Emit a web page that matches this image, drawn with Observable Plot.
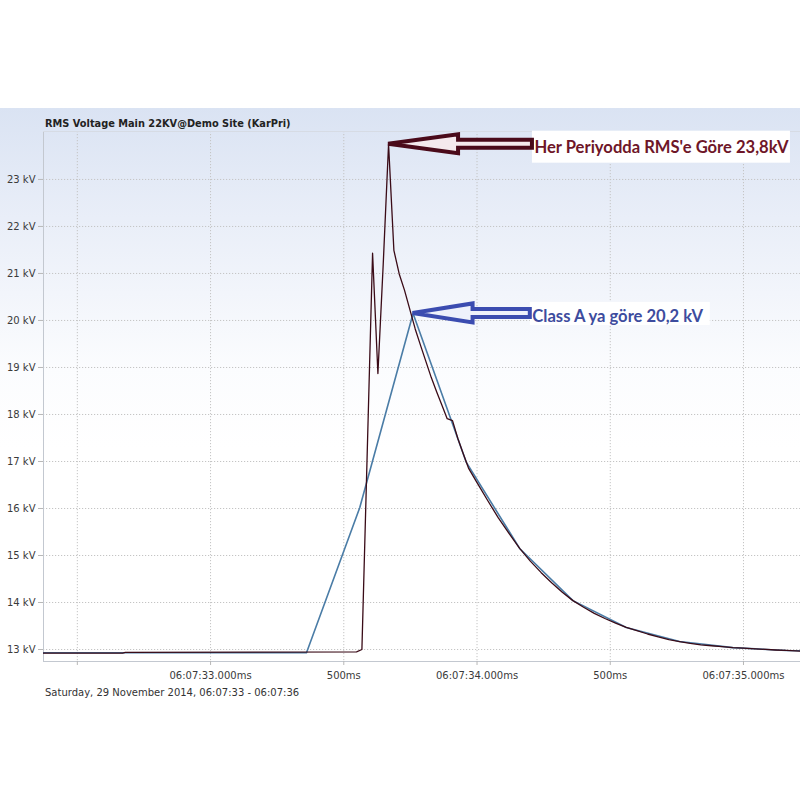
<!DOCTYPE html>
<html><head><meta charset="utf-8">
<script src="https://cdn.jsdelivr.net/npm/d3@7"></script>
<script src="https://cdn.jsdelivr.net/npm/@observablehq/plot@0.6"></script>
<style>
html,body{margin:0;padding:0;width:800px;height:800px;overflow:hidden;background:#fff;}
#panel{position:absolute;left:0;top:108px;width:800px;height:600px;background:linear-gradient(#dae3f3 0px,#e9eef8 110px,#fbfcfe 260px,#fff 340px);}
#title{position:absolute;left:45px;top:118px;font:bold 9.8px "DejaVu Sans",sans-serif;line-height:12px;color:#222;white-space:nowrap;}
#chart{position:absolute;left:0;top:111px;}
#foot{position:absolute;left:45px;top:687px;font:10px "DejaVu Sans",sans-serif;line-height:12px;color:#333;white-space:nowrap;}
</style></head>
<body>
<div id="panel"></div>
<div id="title">RMS Voltage Main 22KV@Demo Site (KarPri)</div>
<div id="chart"></div>
<div id="foot">Saturday, 29 November 2014, 06:07:33 - 06:07:36</div>
<script>
// time in ms relative to 06:07:33.000, values in kV
const classATimes  = [-640, -440, -240, -40, 160, 360, 560, 760, 960, 1160, 1360, 1560, 1760, 1960, 2160, 2360];
const classAValues = [12.93, 12.93, 12.93, 12.93, 12.93, 12.93, 16.02, 20.15, 16.98, 15.15, 14.04, 13.47, 13.17, 13.04, 12.98, 12.95];

const perPeriodTimes = [-640, -330, -320, 548, 568, 588, 608, 628, 648, 668, 688, 708, 728, 748, 768, 788, 808, 828, 848, 868, 888, 908, 928, 948, 968,
  1000, 1040, 1080, 1120, 1160, 1200, 1240, 1280, 1320, 1360, 1400, 1440, 1480, 1520, 1560, 1600, 1640, 1680, 1720, 1760,
  1800, 1840, 1880, 1920, 1960, 2000, 2060, 2120, 2160, 2230];
const perPeriodValues = [12.925, 12.925, 12.94, 12.95, 13.0, 17.2, 21.43, 18.87, 21.2, 23.75, 21.49, 20.99, 20.64, 20.23, 19.82, 19.47, 19.13, 18.79, 18.49, 18.2, 17.91, 17.87, 17.49, 17.17, 16.86,
  16.55, 16.17, 15.80, 15.47, 15.15, 14.88, 14.64, 14.42, 14.22, 14.04, 13.90, 13.77, 13.66, 13.56, 13.47, 13.40, 13.33, 13.27, 13.21, 13.17,
  13.13, 13.10, 13.08, 13.06, 13.04, 13.03, 13.01, 12.99, 12.98, 12.96];

const kvTicks = [13, 14, 15, 16, 17, 18, 19, 20, 21, 22, 23];
const timeTicks = [-500, 0, 500, 1000, 1500, 2000];
const timeTickLabels = ["", "06:07:33.000ms", "500ms", "06:07:34.000ms", "500ms", "06:07:35.000ms"];

const annotationTexts = ["Her Periyodda RMS'e Göre 23,8kV", "Class A ya göre 20,2 kV"];
const annotationTailTimes = [1208, 1200];

const classA = classATimes.map((t, i) => ({t, v: classAValues[i]}));
const perPeriod = perPeriodTimes.map((t, i) => ({t, v: perPeriodValues[i]}));
const peakOf = s => s.reduce((m, d) => d.v > m.v ? d : m);
const annStyles = [
  {stroke: "#4a0a1a", fill: "#f4e9ed", text: "#6e1628", H: 70, hh: 9.5, sh: 4, boxW: 258, boxUp: 13, boxDown: 19},
  {stroke: "#3b4cb0", fill: "#eef1fb", text: "#3d4c9e", H: 60, hh: 9.5, sh: 4, boxW: 180, boxUp: 11, boxDown: 12}
];
const annotations = [peakOf(perPeriod), peakOf(classA)].map((p, i) => ({
  t: p.t, v: p.v, tail: annotationTailTimes[i], text: annotationTexts[i], i
}));

const xDomain = [-627, 2214];
const yDomain = [12.745, 24.02];

function arrows(index, scales) {
  const g = d3.create("svg:g");
  annotations.forEach(a => {
    const s = annStyles[a.i];
    const tx = scales.x(a.t), ty = scales.y(a.v), ex = scales.x(a.tail);
    g.append("rect").attr("x", ex).attr("y", ty - s.boxUp).attr("width", s.boxW).attr("height", s.boxUp + s.boxDown).attr("fill", "#fff");
    const hx = tx + s.H;
    const pts = [[tx, ty], [hx, ty - s.hh], [hx, ty - s.sh], [ex, ty - s.sh], [ex, ty + s.sh], [hx, ty + s.sh], [hx, ty + s.hh]];
    g.append("polygon").attr("points", pts.map(p => p.join(",")).join(" "))
      .attr("fill", s.fill).attr("stroke", s.stroke).attr("stroke-width", 4).attr("stroke-linejoin", "miter");
  });
  return g.node();
}

const chart = Plot.plot({
  width: 800, height: 590,
  marginLeft: 43, marginRight: 0, marginTop: 20, marginBottom: 40,
  style: {background: "transparent", fontFamily: "DejaVu Sans, sans-serif", fontSize: "10px", color: "#3a3a3a"},
  x: {domain: xDomain},
  y: {domain: yDomain},
  marks: [
    Plot.gridY(kvTicks, {stroke: "#c4c4c4", strokeOpacity: 1, strokeDasharray: "1.2,1.8"}),
    Plot.gridX(timeTicks, {stroke: "#c4c4c4", strokeOpacity: 1, strokeDasharray: "1.2,1.8"}),
    Plot.ruleX([xDomain[0]], {stroke: "#c3c8d0"}),
    Plot.ruleY([yDomain[0]], {stroke: "#c3c8d0"}),
    Plot.ruleY([yDomain[1]], {stroke: "#d6dbe4"}),
    Plot.axisY(kvTicks, {tickFormat: d => d + " kV", tickSize: 5, tickPadding: 3, stroke: "#b8b8b8", label: null}),
    Plot.axisX(timeTicks, {tickFormat: d => timeTickLabels[timeTicks.indexOf(d)], tickSize: 4, tickPadding: 6, stroke: "#b8b8b8", label: null}),
    Plot.line(classA, {x: "t", y: "v", stroke: "#4a7ca6", strokeWidth: 1.6, clip: true}),
    Plot.line(perPeriod, {x: "t", y: "v", stroke: "#3a0b17", strokeWidth: 1.3, clip: true}),
    arrows,
    Plot.text(annotations, {x: "tail", y: "v", text: "text", textAnchor: "start", dx: 2, dy: 3,
      fill: d => annStyles[d.i].text, fontFamily: "Lato, sans-serif", fontWeight: "bold", fontSize: 16.6})
  ]
});
document.getElementById("chart").appendChild(chart);
</script>
</body></html>
